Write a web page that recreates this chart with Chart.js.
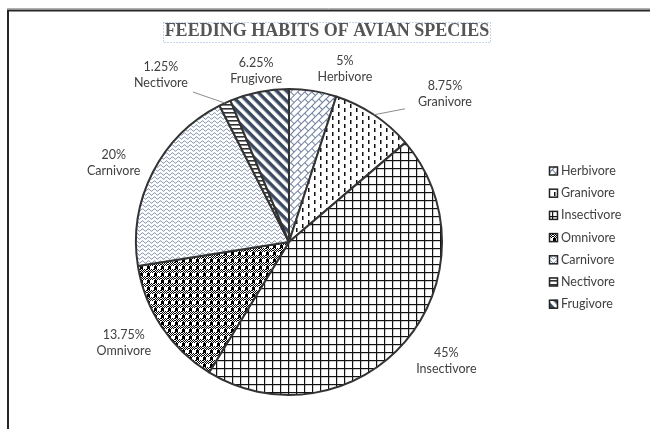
<!DOCTYPE html>
<html>
<head>
<meta charset="utf-8">
<script src="https://cdn.jsdelivr.net/npm/chart.js@4/dist/chart.umd.min.js"></script>
<style>
  body { margin: 0; background: #fff; }
  #wrap { width: 650px; height: 429px; }
</style>
</head>
<body>
<div id="wrap"><canvas id="mycanvas" width="650" height="429"></canvas></div>
<script>
// data
var chartTitle = 'FEEDING HABITS OF AVIAN SPECIES';
var categories = ['Herbivore', 'Granivore', 'Insectivore', 'Omnivore', 'Carnivore', 'Nectivore', 'Frugivore'];
var shares = [5, 8.75, 45, 13.75, 20, 1.25, 6.25];

// label placement relative to the slice mid point on the rim
var labelOffsets = [[32, -22], [71, -21], [41, 20], [-38, 16], [-39, -10], [-64, -28], [-3, -21]];
// leader lines start (relative to label centre), null = none
var leaderStarts = [null, [-40, 15], null, null, null, [32, 17], null];

var slate = '#6f819f';
var navy = '#3b4a60';

function makePattern(w, h, draw, matrix) {
    var c = document.createElement('canvas');
    c.width = w; c.height = h;
    var g = c.getContext('2d');
    g.fillStyle = '#fff';
    g.fillRect(0, 0, w, h);
    draw(g);
    var p = document.createElement('canvas').getContext('2d').createPattern(c, 'repeat');
    if (matrix) p.setTransform(matrix);
    return p;
}

var patterns = [
    // herbivore: diagonal brick
    makePattern(10, 10, function (g) {
        g.fillStyle = slate;
        g.fillRect(0, 0, 10, 1);
        g.fillRect(0, 5, 10, 1);
        g.fillRect(0, 0, 1, 5);
        g.fillRect(5, 5, 1, 5);
    }, new DOMMatrix().rotate(-45)),
    // granivore: dashed verticals
    makePattern(12, 8, function (g) {
        g.fillStyle = '#111';
        g.fillRect(2, 0, 1.5, 4);
        g.fillRect(8, 4, 1.5, 4);
    }),
    // insectivore: grid
    makePattern(8, 8, function (g) {
        g.fillStyle = '#111';
        g.fillRect(0, 0, 8, 1.2);
        g.fillRect(0, 0, 1.2, 8);
    }),
    // omnivore: checker with large squares
    makePattern(7, 7, function (g) {
        g.fillStyle = '#000';
        for (var i = 0; i < 7; i++)
            for (var j = 0; j < 7; j++)
                if ((i + j) % 2) g.fillRect(i, j, 1, 1);
        g.fillStyle = '#fff';
        g.fillRect(0, 0, 7, 3);
        g.fillStyle = '#000';
        g.fillRect(0, 0, 3, 3);
    }),
    // carnivore: waves
    makePattern(6, 4, function (g) {
        g.strokeStyle = slate;
        g.lineWidth = 1;
        g.beginPath();
        for (var x = -1; x <= 7; x += 0.5) {
            var y = 2 + 1.2 * Math.sin(x / 6 * Math.PI * 2);
            if (x === -1) g.moveTo(x, y); else g.lineTo(x, y);
        }
        g.stroke();
    }),
    // nectivore: horizontal lines
    makePattern(4, 4, function (g) {
        g.fillStyle = '#333';
        g.fillRect(0, 0, 4, 1.6);
    }),
    // frugivore: wide diagonal stripes
    makePattern(7, 7, function (g) {
        g.fillStyle = navy;
        g.fillRect(0, 0, 7, 3.5);
    }, new DOMMatrix().rotate(45))
];

var labelFont = '12.5px Lato';
var labelColor = '#404040';

var decorPlugin = {
    id: 'decor',
    beforeDraw: function (chart) {
        var ctx = chart.ctx;
        ctx.save();
        ctx.fillStyle = '#fff';
        ctx.fillRect(0, 0, chart.width, chart.height);
        // frame
        ctx.strokeStyle = '#b0b0b0';
        ctx.lineWidth = 1;
        ctx.beginPath();
        ctx.moveTo(7, 8.5); ctx.lineTo(650, 8.5);
        ctx.stroke();
        ctx.strokeStyle = '#262626';
        ctx.lineWidth = 2;
        ctx.beginPath();
        ctx.moveTo(8, 429); ctx.lineTo(8, 10.5); ctx.lineTo(650, 10.5);
        ctx.stroke();
        // title
        ctx.strokeStyle = '#8ea9db';
        ctx.lineWidth = 1;
        ctx.setLineDash([1, 2]);
        ctx.strokeRect(163.5, 22.5, 327, 20);
        ctx.setLineDash([]);
        ctx.fillStyle = '#555555';
        ctx.font = 'bold 18px "Liberation Serif"';
        ctx.textAlign = 'center';
        ctx.textBaseline = 'middle';
        ctx.fillText(chartTitle, 327, 31);
        ctx.restore();
    },
    afterDatasetsDraw: function (chart) {
        var ctx = chart.ctx;
        var meta = chart.getDatasetMeta(0);
        var values = chart.data.datasets[0].data;
        ctx.save();
        ctx.font = labelFont;
        ctx.fillStyle = labelColor;
        ctx.textAlign = 'center';
        ctx.textBaseline = 'middle';
        meta.data.forEach(function (arc, i) {
            var mid = (arc.startAngle + arc.endAngle) / 2;
            var rx = arc.x + Math.cos(mid) * arc.outerRadius;
            var ry = arc.y + Math.sin(mid) * arc.outerRadius;
            var lx = rx + labelOffsets[i][0];
            var ly = ry + labelOffsets[i][1];
            ctx.fillText(values[i] + '%', lx, ly - 8);
            ctx.fillText(chart.data.labels[i], lx, ly + 8);
            if (leaderStarts[i]) {
                ctx.strokeStyle = '#8c8c8c';
                ctx.lineWidth = 1;
                ctx.beginPath();
                ctx.moveTo(lx + leaderStarts[i][0], ly + leaderStarts[i][1]);
                ctx.lineTo(rx, ry);
                ctx.stroke();
            }
        });
        // legend
        var lgX = 549, lgY = 171, step = 22.2;
        chart.data.labels.forEach(function (name, i) {
            var y = lgY + i * step;
            ctx.fillStyle = patterns[i];
            ctx.fillRect(lgX, y - 4.5, 9, 9);
            ctx.strokeStyle = '#222';
            ctx.lineWidth = 1.5;
            ctx.strokeRect(lgX + 0.5, y - 4, 8, 8);
            ctx.fillStyle = labelColor;
            ctx.textAlign = 'left';
            ctx.fillText(name, lgX + 12, y);
        });
        ctx.restore();
    }
};

var chartdata = {
    labels: categories,
    datasets: [{
        data: shares,
        backgroundColor: patterns,
        borderColor: '#333333',
        borderWidth: 2,
        radius: 153
    }]
};

var ctx = document.getElementById('mycanvas');
var pieChart = new Chart(ctx, {
    type: 'pie',
    data: chartdata,
    options: {
        responsive: false,
        animation: false,
        layout: { padding: { left: 0, right: 72, top: 60, bottom: 5 } },
        plugins: {
            legend: { display: false },
            tooltip: { enabled: false },
            title: { display: false }
        }
    },
    plugins: [decorPlugin]
});
</script>
</body>
</html>
